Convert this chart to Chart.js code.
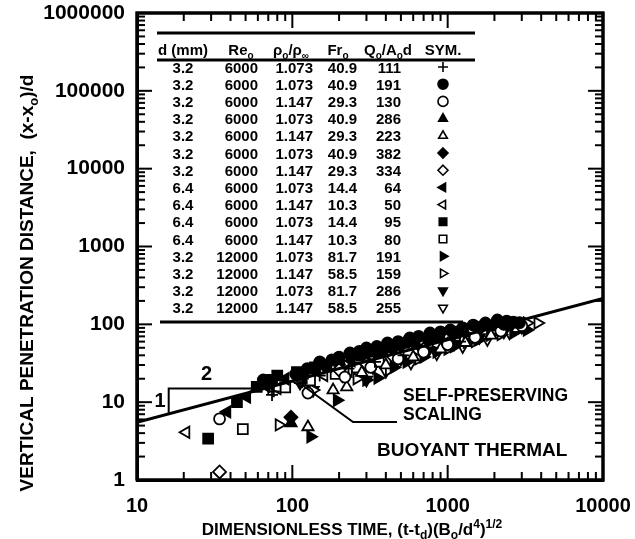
<!DOCTYPE html>
<html>
<head>
<meta charset="utf-8">
<script src="https://cdn.jsdelivr.net/npm/chart.js@4.4.0/dist/chart.umd.min.js"></script>
<style>
  html, body { margin: 0; padding: 0; background: #fff; }
  #wrap { width: 635px; height: 539px; }
</style>
</head>
<body>
<div id="wrap"><canvas id="chart" width="635" height="539"></canvas></div>
<script>
// Axis decades
const xTickValues = [10, 100, 1000, 10000];
const yTickValues = [1, 10, 100, 1000, 10000, 100000, 1000000];

// Table columns (one row per run)
const diameters = ['3.2', '3.2', '3.2', '3.2', '3.2', '3.2', '3.2', '6.4', '6.4', '6.4', '6.4', '3.2', '3.2', '3.2', '3.2'];
const reynolds = ['6000', '6000', '6000', '6000', '6000', '6000', '6000', '6000', '6000', '6000', '6000', '12000', '12000', '12000', '12000'];
const densityRatios = ['1.073', '1.073', '1.147', '1.073', '1.147', '1.073', '1.147', '1.073', '1.147', '1.073', '1.147', '1.073', '1.147', '1.073', '1.147'];
const froudes = ['40.9', '40.9', '29.3', '40.9', '29.3', '40.9', '29.3', '14.4', '10.3', '14.4', '10.3', '81.7', '58.5', '81.7', '58.5'];
const flowRatios = ['111', '191', '130', '286', '223', '382', '334', '64', '50', '95', '80', '191', '159', '286', '255'];

// Measured points [time, distance] per run
const plusPts = [[74, 12.4], [76, 13.8], [70, 15], [112, 17.6], [150, 22], [230, 27], [340, 33], [520, 40], [800, 50], [1200, 60]];
const filledCirclePts = [[65, 19.3], [105, 23], [125, 27], [150, 32.8], [180, 35], [200, 38], [235, 42.8], [270, 45], [300, 49.7], [320, 45], [350, 52], [410, 57.6], [450, 52], [480, 60],
    [570, 66.8], [600, 60], [650, 70], [770, 77.5], [820, 70], [900, 80], [1040, 84.6], [1150, 80], [1250, 90], [1460, 97.9], [1600, 92], [1750, 104], [2090, 114], [2300, 100], [2400, 110], [2650, 107], [2900, 105]];
const openCirclePts = [[34, 6.1], [126, 13.1], [218, 21], [320, 28], [480, 36], [700, 44], [1000, 55], [1500, 68], [2200, 82], [3000, 96]];
const filledTrianglePts = [[98, 5.4], [140, 26], [200, 34], [290, 40], [420, 48], [520, 55], [620, 58], [900, 68], [1100, 74], [1300, 78], [1900, 92], [2600, 100]];
const openTrianglePts = [[126, 4.8], [183, 14.3], [224, 15.6], [280, 24], [400, 30], [600, 38], [900, 48], [1300, 58], [1900, 72], [2800, 88]];
const filledDiamondPts = [[98, 6.4], [160, 30], [240, 38], [350, 46], [500, 54], [750, 64], [1100, 76], [1600, 88], [2200, 98]];
const openDiamondPts = [[34, 1.27], [200, 26], [300, 31], [450, 38], [700, 48], [1000, 56], [1500, 66]];
const filledLeftPts = [[38, 7.5], [51, 11.6], [68, 16], [90, 20], [120, 24], [170, 29], [240, 34]];
const openLeftPts = [[20.7, 4.1], [80, 15], [110, 18.5], [160, 22], [230, 25], [320, 30]];
const filledSquarePts = [[28.7, 3.4], [44, 10], [59, 15.7], [74, 19.3], [80, 22], [107, 24.4], [115, 20], [140, 28], [200, 34], [280, 40], [380, 46]];
const openSquarePts = [[48, 4.5], [90, 15.5], [130, 19], [190, 23], [260, 28], [360, 33]];
const filledRightPts = [[131, 3.6], [194, 10.6], [300, 19.3], [354, 20.4], [450, 28], [545, 32.8], [700, 38], [850, 44], [1100, 52], [1330, 59.3], [1600, 64], [1880, 73], [2650, 77.4], [3240, 84.6]];
const openRightPts = [[82, 5.1], [136, 14.3], [260, 20], [420, 26], [650, 36], [1000, 48], [1500, 60], [2200, 74], [3000, 90], [3240, 104], [3800, 104]];
const filledDownPts = [[136, 14.3], [210, 22], [330, 28], [500, 36], [750, 46], [1100, 56], [1600, 68], [2300, 80], [3000, 92]];
const openDownPts = [[112, 17.6], [300, 19.3], [400, 25], [580, 32], [850, 42], [1250, 52], [1800, 64], [2500, 78]];

// Self-preserving scaling line, slope triangle and the leader to its label
const scalingLine = [[10, 5.5], [10000, 215]];
const slopeTriangle = [[16, 7.0], [16, 15], [65, 15]];
const leaderLine = [[105, 19.1], [246, 5.56], [472, 5.56]];

const FONT = "'Liberation Sans', Arial, Helvetica, sans-serif";
const bold = size => `bold ${size}px ${FONT}`;

const runs = [
    { pts: plusPts, style: 'cross', fill: false, r: 6, rot: 0 },
    { pts: filledCirclePts, style: 'circle', fill: true, r: 5.5, rot: 0 },
    { pts: openCirclePts, style: 'circle', fill: false, r: 5.5, rot: 0 },
    { pts: filledTrianglePts, style: 'triangle', fill: true, r: 6.5, rot: 0 },
    { pts: openTrianglePts, style: 'triangle', fill: false, r: 6.5, rot: 0 },
    { pts: filledDiamondPts, style: 'rectRot', fill: true, r: 6.5, rot: 0 },
    { pts: openDiamondPts, style: 'rectRot', fill: false, r: 6.5, rot: 0 },
    { pts: filledLeftPts, style: 'triangle', fill: true, r: 6.5, rot: -90 },
    { pts: openLeftPts, style: 'triangle', fill: false, r: 6.5, rot: -90 },
    { pts: filledSquarePts, style: 'rect', fill: true, r: 7, rot: 0 },
    { pts: openSquarePts, style: 'rect', fill: false, r: 7, rot: 0 },
    { pts: filledRightPts, style: 'triangle', fill: true, r: 6.5, rot: 90 },
    { pts: openRightPts, style: 'triangle', fill: false, r: 6.5, rot: 90 },
    { pts: filledDownPts, style: 'triangle', fill: true, r: 6.5, rot: 180 },
    { pts: openDownPts, style: 'triangle', fill: false, r: 6.5, rot: 180 }
];

const toXY = arr => arr.map(p => ({ x: p[0], y: p[1] }));

const lineSet = (pts, width) => ({
    type: 'line',
    data: toXY(pts),
    borderColor: '#000',
    borderWidth: width,
    pointRadius: 0,
    fill: false,
    tension: 0
});

// plot frame traced through the scales, corner to corner
const xMin = xTickValues[0], xMax = xTickValues[xTickValues.length - 1];
const yMin = yTickValues[0], yMax = yTickValues[yTickValues.length - 1];
const frameSet = lineSet([[xMin, yMin], [xMax, yMin], [xMax, yMax], [xMin, yMax], [xMin, yMin]], 3);
frameSet.clip = false;

const datasets = [
    frameSet,
    lineSet(scalingLine, 3),
    lineSet(slopeTriangle, 2),
    lineSet(leaderLine, 2)
];
runs.forEach(run => {
    datasets.push({
        type: 'scatter',
        data: toXY(run.pts),
        pointStyle: run.style,
        pointRadius: run.r,
        pointHoverRadius: run.r,
        pointRotation: run.rot,
        backgroundColor: run.fill ? '#000' : '#fff',
        borderColor: '#000',
        borderWidth: 1.8
    });
});

// text pieces: [text, 'n' | 'sub' | 'sup']
function drawRich(ctx, parts, x, y, size, align) {
    const fontOf = kind => bold(kind === 'n' ? size : Math.round(size * 0.68));
    const widthOf = p => { ctx.font = fontOf(p[1]); return ctx.measureText(p[0]).width; };
    const total = parts.reduce((s, p) => s + widthOf(p), 0);
    let cx = align === 'center' ? x - total / 2 : (align === 'right' ? x - total : x);
    ctx.textAlign = 'left';
    ctx.textBaseline = 'alphabetic';
    parts.forEach(p => {
        const w = widthOf(p);
        ctx.font = fontOf(p[1]);
        const dy = p[1] === 'sub' ? size * 0.25 : (p[1] === 'sup' ? -size * 0.4 : 0);
        ctx.fillText(p[0], cx, y + dy);
        cx += w;
    });
}

// small table symbols
function drawSymbol(ctx, run, x, y, r) {
    ctx.save();
    ctx.translate(x, y);
    ctx.rotate(run.rot * Math.PI / 180);
    ctx.fillStyle = run.fill ? '#000' : '#fff';
    ctx.strokeStyle = '#000';
    ctx.lineWidth = 1.6;
    ctx.beginPath();
    if (run.style === 'circle') {
        ctx.arc(0, 0, r, 0, Math.PI * 2);
    } else if (run.style === 'triangle') {
        ctx.moveTo(0, -r);
        ctx.lineTo(r * 0.866, r * 0.5);
        ctx.lineTo(-r * 0.866, r * 0.5);
        ctx.closePath();
    } else if (run.style === 'rect') {
        const s = r * 0.75;
        ctx.rect(-s, -s, 2 * s, 2 * s);
    } else if (run.style === 'rectRot') {
        ctx.moveTo(0, -r);
        ctx.lineTo(r, 0);
        ctx.lineTo(0, r);
        ctx.lineTo(-r, 0);
        ctx.closePath();
    }
    if (run.style === 'cross') {
        ctx.moveTo(0, -r);
        ctx.lineTo(0, r);
        ctx.moveTo(-r, 0);
        ctx.lineTo(r, 0);
        ctx.stroke();
    } else {
        ctx.fill();
        ctx.stroke();
    }
    ctx.restore();
}

const noteLabels = [
    { text: '1', x: 14.1, y: 10.7, size: 20, align: 'center' },
    { text: '2', x: 28, y: 23.7, size: 20, align: 'center' },
    { text: 'SELF-PRESERVING', x: 516, y: 12.4, size: 17.5, align: 'left' },
    { text: 'SCALING', x: 516, y: 7.05, size: 17.5, align: 'left' },
    { text: 'BUOYANT THERMAL', x: 351, y: 2.5, size: 19, align: 'left' }
];

const figurePlugin = {
    id: 'figureText',
    afterDraw(chart) {
        const ctx = chart.ctx;
        const area = chart.chartArea;
        const xs = chart.scales.x;
        const ys = chart.scales.y;
        const seg = (x1, y1, x2, y2) => { ctx.beginPath(); ctx.moveTo(x1, y1); ctx.lineTo(x2, y2); ctx.stroke(); };

        ctx.save();
        ctx.strokeStyle = '#000';
        ctx.fillStyle = '#000';

        // inward tick marks on all four sides
        const x0 = xs.getPixelForValue(xMin), x1 = xs.getPixelForValue(xMax);
        const y0 = ys.getPixelForValue(yMin), y1 = ys.getPixelForValue(yMax);
        ctx.lineWidth = 2;
        xTickValues.forEach(d => {
            for (let m = 1; m < 10; m++) {
                const v = d * m;
                if (v > xMax) break;
                const px = xs.getPixelForValue(v);
                const len = m === 1 ? 15 : 8;
                seg(px, y0, px, y0 - len);
                seg(px, y1, px, y1 + len);
            }
        });
        yTickValues.forEach(d => {
            for (let m = 1; m < 10; m++) {
                const v = d * m;
                if (v > yMax) break;
                const py = ys.getPixelForValue(v);
                const len = m === 1 ? 15 : 8;
                seg(x0, py, x0 + len, py);
                seg(x1, py, x1 - len, py);
            }
        });
        ctx.lineWidth = 3;
        ctx.strokeRect(x0, y1, x1 - x0, y0 - y1);

        // table of runs
        const tx = area.left;
        const ty = area.top;
        seg(tx + 20, ty + 20, tx + 338, ty + 20);
        seg(tx + 20, ty + 47, tx + 338, ty + 47);
        seg(tx + 23, ty + 309, tx + 326, ty + 309);

        const hy = ty + 42;
        drawRich(ctx, [['d (mm)', 'n']], tx + 46, hy, 15, 'center');
        drawRich(ctx, [['Re', 'n'], ['o', 'sub']], tx + 104, hy, 15, 'center');
        drawRich(ctx, [['\u03C1', 'n'], ['o', 'sub'], ['/\u03C1', 'n'], ['\u221E', 'sub']], tx + 154, hy, 15, 'center');
        drawRich(ctx, [['Fr', 'n'], ['o', 'sub']], tx + 201, hy, 15, 'center');
        drawRich(ctx, [['Q', 'n'], ['o', 'sub'], ['/A', 'n'], ['o', 'sub'], ['d', 'n']], tx + 251, hy, 15, 'center');
        drawRich(ctx, [['SYM.', 'n']], tx + 306, hy, 15, 'center');

        for (let i = 0; i < diameters.length; i++) {
            const ry = ty + 54 + i * 17.2;
            const by = ry + 5.5;
            drawRich(ctx, [[diameters[i], 'n']], tx + 46, by, 15, 'center');
            drawRich(ctx, [[reynolds[i], 'n']], tx + 121, by, 15, 'right');
            drawRich(ctx, [[densityRatios[i], 'n']], tx + 176, by, 15, 'right');
            drawRich(ctx, [[froudes[i], 'n']], tx + 220, by, 15, 'right');
            drawRich(ctx, [[flowRatios[i], 'n']], tx + 264, by, 15, 'right');
            drawSymbol(ctx, runs[i], tx + 306, ry, 5);
        }

        // notes inside the plot
        noteLabels.forEach(n => {
            const px = xs.getPixelForValue(n.x);
            const py = ys.getPixelForValue(n.y);
            drawRich(ctx, [[n.text, 'n']], px, py + n.size * 0.36, n.size, n.align);
        });

        // axis titles
        drawRich(ctx, [['DIMENSIONLESS TIME, (t-t', 'n'], ['d', 'sub'], [')(B', 'n'], ['o', 'sub'], ['/d', 'n'], ['4', 'sup'], [')', 'n'], ['1/2', 'sup']],
            352, 535, 17, 'center');
        ctx.save();
        ctx.translate(33, 283);
        ctx.rotate(-Math.PI / 2);
        drawRich(ctx, [['VERTICAL PENETRATION DISTANCE,  (x-x', 'n'], ['o', 'sub'], [')/d', 'n']], 0, 0, 19, 'center');
        ctx.restore();
        ctx.restore();
    }
};

new Chart(document.getElementById('chart'), {
    data: { datasets: datasets },
    options: {
        responsive: false,
        animation: false,
        events: [],
        layout: { padding: { top: 13, right: 32, left: 0, bottom: 0 } },
        plugins: {
            legend: { display: false },
            tooltip: { enabled: false }
        },
        scales: {
            x: {
                type: 'logarithmic',
                min: 10,
                max: 10000,
                afterBuildTicks: scale => { scale.ticks = xTickValues.map(v => ({ value: v })); },
                afterFit: scale => { scale.height = 59; scale.paddingLeft = 0; scale.paddingRight = 0; },
                ticks: { callback: v => String(v), font: { family: FONT, size: 20, weight: 'bold' }, color: '#000', padding: 14, maxRotation: 0, autoSkip: false },
                grid: { display: false, drawTicks: false },
                border: { display: true, color: '#000', width: 3 }
            },
            y: {
                type: 'logarithmic',
                min: 1,
                max: 1000000,
                afterBuildTicks: scale => { scale.ticks = yTickValues.map(v => ({ value: v })); },
                afterFit: scale => { scale.width = 137; scale.paddingTop = 0; scale.paddingBottom = 0; },
                ticks: { callback: v => String(v), font: { family: FONT, size: 21, weight: 'bold' }, color: '#000', padding: 12, autoSkip: false },
                grid: { display: false, drawTicks: false },
                border: { display: true, color: '#000', width: 3 }
            }
        }
    },
    plugins: [figurePlugin]
});
</script>
</body>
</html>
